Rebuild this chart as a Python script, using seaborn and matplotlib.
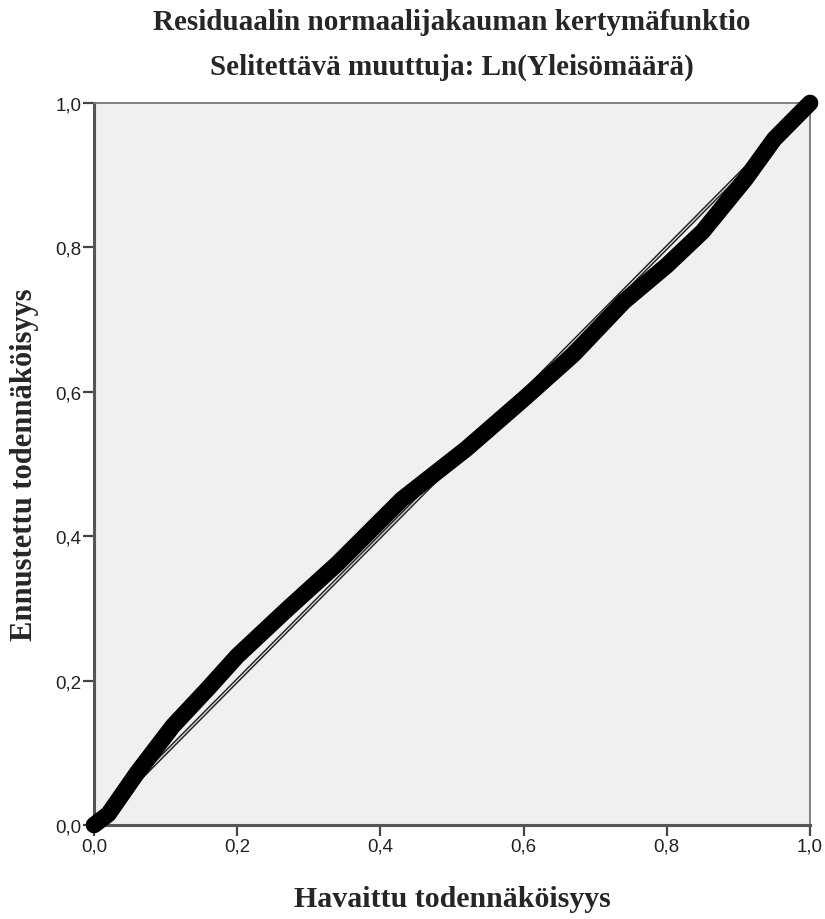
import matplotlib
matplotlib.use("Agg")
import matplotlib.pyplot as plt
import seaborn as sns
import pandas as pd
from matplotlib.ticker import FuncFormatter

# Data
observed = [0.0, 0.02, 0.06, 0.11, 0.16, 0.2, 0.27, 0.34, 0.43, 0.52, 0.6, 0.67, 0.74, 0.8, 0.85, 0.91, 0.95, 0.99, 1.0]
expected = [0.0, 0.015, 0.072, 0.137, 0.19, 0.234, 0.299, 0.362, 0.451, 0.521, 0.59, 0.652, 0.725, 0.775, 0.822, 0.895, 0.95, 0.99, 1.0]
ref_x = [0.0, 1.0]
ref_y = [0.0, 1.0]
ticks = [0.0, 0.2, 0.4, 0.6, 0.8, 1.0]

title1 = "Residuaalin normaalijakauman kertymäfunktio"
title2 = "Selitettävä muuttuja: Ln(Yleisömäärä)"
xlabel = "Havaittu todennäköisyys"
ylabel = "Ennustettu todennäköisyys"

sns.set_theme(style="white")
plt.rcParams['font.family'] = ['Liberation Sans', 'DejaVu Sans']

df = pd.DataFrame({"obs": observed, "exp": expected})
ref = pd.DataFrame({"x": ref_x, "y": ref_y})

fig = plt.figure(figsize=(8.25, 9.2), dpi=100)
ax = fig.add_axes([94/825, 1-826/920, (810-94)/825, (826-104)/920])
ax.set_facecolor("#f0f0f0")

sns.lineplot(data=ref, x="x", y="y", ax=ax, color="#222222", linewidth=3.0, zorder=2)
sns.lineplot(data=ref, x="x", y="y", ax=ax, color="#dddddd", linewidth=0.9, zorder=3)
sns.lineplot(data=df, x="obs", y="exp", ax=ax, color="black", linewidth=12,
             solid_capstyle="round", solid_joinstyle="round", zorder=4, clip_on=False)

ax.set_xlim(0, 1)
ax.set_ylim(0, 1)
ax.set_xticks(ticks)
ax.set_yticks(ticks)
fmt = FuncFormatter(lambda v, p: f"{v:.1f}".replace(".", ","))
ax.xaxis.set_major_formatter(fmt)
ax.yaxis.set_major_formatter(fmt)
ax.tick_params(axis="both", direction="out", length=8, width=1.6, color="#444444",
               labelsize=13.5, labelcolor="#222222", bottom=True, left=True, pad=1)

for s in ["left", "bottom"]:
    ax.spines[s].set_color("#555555")
    ax.spines[s].set_linewidth(2.2)
for s in ["top", "right"]:
    ax.spines[s].set_color("#777777")
    ax.spines[s].set_linewidth(1.3)

serif = ['Liberation Serif', 'DejaVu Serif']
ax.set_xlabel(xlabel, family=serif, fontweight="bold", fontsize=21.5, labelpad=22)
ax.set_ylabel(ylabel, family=serif, fontweight="bold", fontsize=22, labelpad=12)
cx = (94 + 810) / 2 / 825
fig.text(cx, 1 - 23/920, title1, family=serif, fontweight="bold", fontsize=21,
         ha="center", va="center")
fig.text(cx, 1 - 67/920, title2, family=serif, fontweight="bold", fontsize=21,
         ha="center", va="center")

fig.savefig("out.png", dpi=100, facecolor="white")
